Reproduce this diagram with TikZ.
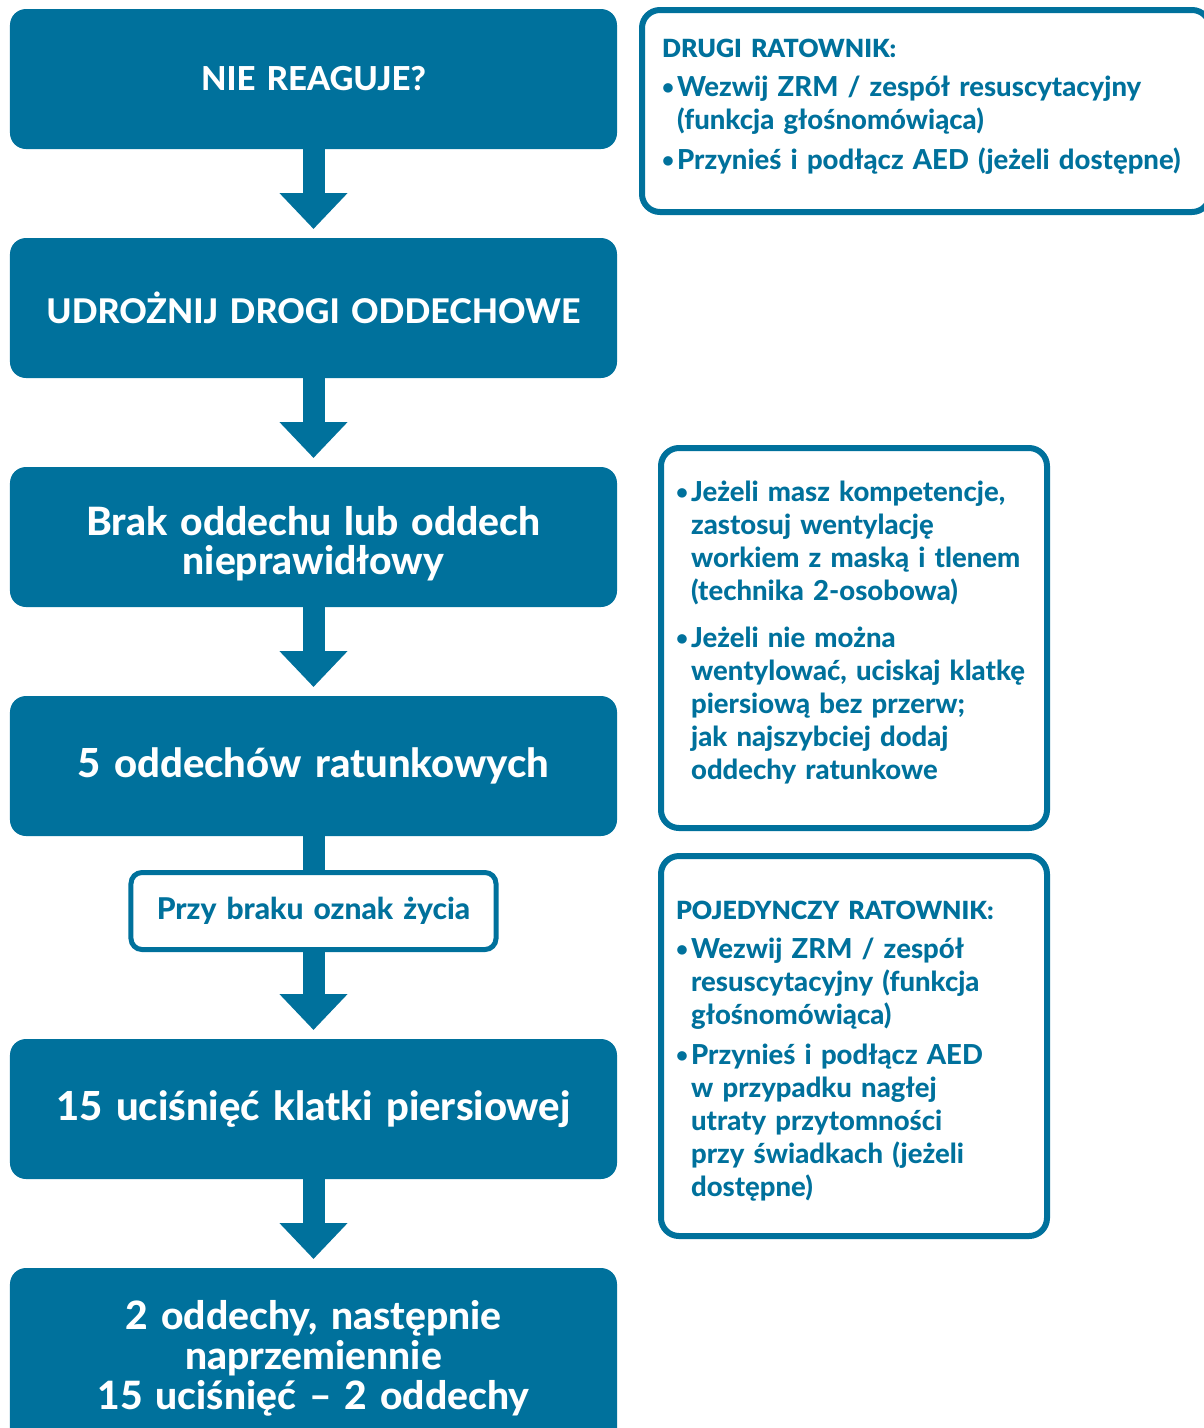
\documentclass[tikz,border=0pt]{standalone}
\usepackage{fontspec}
\setmainfont{Lato}[BoldFont={Lato Heavy}]
\newfontfamily\naglowek{Lato Semibold}
\usetikzlibrary{matrix,positioning,arrows.meta}
\definecolor{ercblue}{HTML}{00719C}
\newcommand{\punkt}{\par\hangindent=0.55em\hangafter=1\noindent\makebox[0.55em][l]{\raisebox{0.08em}{\scalebox{0.75}{•}}}}

\begin{document}
\begin{tikzpicture}[x=1pt,y=-1pt,
	krok/.style={fill=ercblue, text=white, rounded corners=16pt, minimum width=607pt,
		minimum height=140pt, inner sep=0pt, outer sep=0pt, text width=600pt, align=center,
		font=\bfseries\fontsize{40}{40}\selectfont},
	etykieta/.style={draw=ercblue, fill=white, line width=5pt, rounded corners=11pt,
		minimum width=365pt, minimum height=77pt, text width=350pt, text=ercblue,
		font=\bfseries\fontsize{30}{30}\selectfont},
	uwaga/.style={draw=ercblue, line width=6pt, rounded corners=18pt, text=ercblue,
		align=left, inner xsep=15pt, inner ysep=0pt, anchor=north west,
		font=\bfseries\fontsize{27.5}{33}\selectfont},
	strzalka/.style={ercblue, line width=22pt, -{Triangle[width=66pt,length=36pt]}, shorten >=9pt}
	]
\useasboundingbox (0,0) rectangle (1204,1428);
\clip (0,0) rectangle (1204,1428);

\matrix (m) [matrix of nodes, row sep=89pt, nodes={krok}, anchor=north,
	inner sep=0pt, outer sep=0pt] at (313.5,9)
{
	|[font=\bfseries\fontsize{33}{36}\selectfont]| NIE REAGUJE? \\
	|[font=\bfseries\fontsize{34}{38}\selectfont]| UDROŻNIJ DROGI ODDECHOWE \\
	|[font=\bfseries\fontsize{39}{39}\selectfont]| Brak oddechu lub oddech\par nieprawidłowy\par\vspace{-14pt} \\
	5 oddechów ratunkowych \\[-55pt]
	|[etykieta]| Przy braku oznak życia \\[-2pt]
	15 uciśnięć klatki piersiowej \\
	|[minimum height=180pt, font=\bfseries\fontsize{39}{40}\selectfont]| 2 oddechy, następnie\par naprzemiennie\par 15 uciśnięć -- 2 oddechy \\
};
\path[strzalka]
(m-1-1) edge (m-2-1)
(m-2-1) edge (m-3-1)
(m-3-1) edge (m-4-1)
(m-5-1) edge (m-6-1)
(m-6-1) edge (m-7-1);
\path[ercblue, line width=22pt]
(m-4-1) edge (m-5-1);

% uwagi z prawej strony
\node[uwaga, inner xsep=20pt, text width=528pt, minimum height=202pt] (drugi) at (639,7)
{{\naglowek\fontsize{25}{26}\selectfont DRUGI RATOWNIK:}\par\vspace{6pt}
	\punkt Wezwij ZRM / zespół resuscytacyjny\newline(funkcja głośnomówiąca)\par\vspace{7pt}
	\punkt Przynieś i podłącz AED (jeżeli dostępne)\par\vspace{8pt}};

\node[uwaga, text width=356pt, minimum height=380pt] (kompetencje) at (658,445)
{\punkt Jeżeli masz kompetencje,\newline zastosuj wentylację\newline workiem z maską i tlenem\newline(technika 2-osobowa)\par\vspace{14pt}
	\punkt Jeżeli nie można\newline wentylować, uciskaj klatkę\newline piersiową bez przerw;\newline jak najszybciej dodaj\newline oddechy ratunkowe\par\vspace{24pt}};

\node[uwaga, text width=356pt, minimum height=380pt] (pojedynczy) at (658,853)
{{\naglowek\fontsize{25}{26}\selectfont POJEDYNCZY RATOWNIK:}\par\vspace{6pt}
	\punkt Wezwij ZRM / zespół\newline resuscytacyjny (funkcja\newline głośnomówiąca)\par\vspace{7pt}
	\punkt Przynieś i podłącz AED\newline w przypadku nagłej\newline utraty przytomności\newline przy świadkach (jeżeli\newline dostępne)\par\vspace{-10pt}};
\end{tikzpicture}
\end{document}
